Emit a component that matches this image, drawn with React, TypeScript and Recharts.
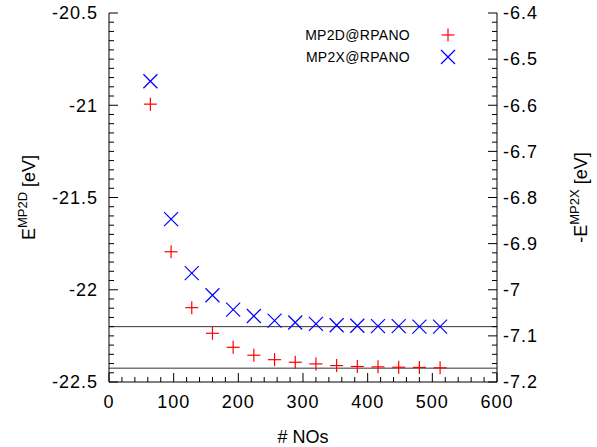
import React from 'react';
import { ScatterChart, Scatter, XAxis, YAxis, ReferenceLine, Legend } from 'recharts';

// number of natural orbitals
const nos = [64, 96, 128, 160, 192, 224, 256, 288, 320, 352, 384, 416, 448, 480, 512];
// E^MP2D [eV], left axis
const mp2d = [-20.994, -21.794, -22.097, -22.236, -22.312, -22.355, -22.379, -22.393, -22.402, -22.411, -22.416, -22.418, -22.42, -22.421, -22.423];
// -E^MP2X [eV], right axis
const mp2x = [-6.548, -6.847, -6.964, -7.012, -7.043, -7.057, -7.067, -7.071, -7.074, -7.077, -7.078, -7.079, -7.079, -7.08, -7.08];
// horizontal reference levels (left axis units)
const refLevels = [-22.2, -22.425];

const xMajor = [0, 100, 200, 300, 400, 500, 600];
const leftMajor = [-22.5, -22, -21.5, -21, -20.5];
const rightMajor = [-7.2, -7.1, -7, -6.9, -6.8, -6.7, -6.6, -6.5, -6.4];

const legendItems = [
  { name: 'MP2D@RPANO', marker: 'plus' },
  { name: 'MP2X@RPANO', marker: 'cross' },
];

const minorTicks = (from: number, to: number, step: number) => {
  const out: number[] = [];
  const n = Math.round((to - from) / step);
  for (let i = 0; i <= n; i++) out.push(Number((from + i * step).toFixed(4)));
  return out;
};

const xTicks = minorTicks(xMajor[0], xMajor[xMajor.length - 1], 20);
const leftTicks = minorTicks(leftMajor[0], leftMajor[leftMajor.length - 1], 0.05);
const rightTicks = minorTicks(rightMajor[0], rightMajor[rightMajor.length - 1], 0.02);

const d2d = nos.map((x, i) => ({ x, y: mp2d[i] }));
const d2x = nos.map((x, i) => ({ x, y: mp2x[i] }));

const FONT = '"Liberation Sans", Arial, sans-serif';
const RED = '#ff0000';
const BLUE = '#0000ff';
const MAJ = 9;
const MIN = 5;

const isMajor = (v: number, list: number[]) => list.some((m) => Math.abs(m - v) < 1e-6);

const PlusMark = ({ cx, cy }: any) => (
  <g stroke={RED} strokeWidth={1.2}>
    <line x1={cx - 6.5} x2={cx + 6.5} y1={cy} y2={cy} />
    <line x1={cx} x2={cx} y1={cy - 6.5} y2={cy + 6.5} />
  </g>
);

const CrossMark = ({ cx, cy }: any) => (
  <g stroke={BLUE} strokeWidth={1.2}>
    <line x1={cx - 7} x2={cx + 7} y1={cy - 7} y2={cy + 7} />
    <line x1={cx - 7} x2={cx + 7} y1={cy + 7} y2={cy - 7} />
  </g>
);

const BottomTick = ({ x, y, payload }: any) => {
  const major = isMajor(payload.value, xMajor);
  return (
    <g>
      <line x1={x} x2={x} y1={y} y2={y - (major ? MAJ : MIN)} stroke="#000" />
      {major && (
        <text x={x} y={y + 26} textAnchor="middle" fontSize={18} fontFamily={FONT} letterSpacing={1} fill="#000">
          {payload.value}
        </text>
      )}
    </g>
  );
};

const TopTick = ({ x, y, payload }: any) => {
  const major = isMajor(payload.value, xMajor);
  return <line x1={x} x2={x} y1={y} y2={y + (major ? MAJ : MIN)} stroke="#000" />;
};

const LeftTick = ({ x, y, payload }: any) => {
  const major = isMajor(payload.value, leftMajor);
  return (
    <g>
      <line x1={x} x2={x + (major ? MAJ : MIN)} y1={y} y2={y} stroke="#000" />
      {major && (
        <text x={x - 11} y={y} dy="0.35em" textAnchor="end" fontSize={18} fontFamily={FONT} letterSpacing={1} fill="#000">
          {Math.round(payload.value * 2) / 2}
        </text>
      )}
    </g>
  );
};

const RightTick = ({ x, y, payload }: any) => {
  const major = isMajor(payload.value, rightMajor);
  return (
    <g>
      <line x1={x} x2={x - (major ? MAJ : MIN)} y1={y} y2={y} stroke="#000" />
      {major && (
        <text x={x + 6} y={y} dy="0.35em" textAnchor="start" fontSize={18} fontFamily={FONT} letterSpacing={1} fill="#000">
          {Math.round(payload.value * 10) / 10}
        </text>
      )}
    </g>
  );
};

const YTitle = ({ viewBox, dx, pre, sup }: any) => {
  const cx = viewBox.x + dx;
  const cy = viewBox.y + viewBox.height / 2;
  return (
    <text x={cx} y={cy} dy="0.35em" transform={`rotate(-90, ${cx}, ${cy})`} textAnchor="middle" fontSize={18} fontFamily={FONT} fill="#000">
      {pre}
      <tspan dy={-8} fontSize={13}>{sup}</tspan>
      <tspan dy={8}> [eV]</tspan>
    </text>
  );
};

const XTitle = ({ viewBox }: any) => (
  <text x={viewBox.x + viewBox.width / 2} y={viewBox.y + 61} textAnchor="middle" fontSize={18} fontFamily={FONT} fill="#000">
    # NOs
  </text>
);

const renderLegend = () => (
  <div style={{ fontFamily: FONT, fontSize: 14, letterSpacing: 0.3, color: '#000' }}>
    {legendItems.map((it) => (
      <div key={it.name} style={{ display: 'flex', alignItems: 'center', height: 22 }}>
        <span style={{ width: 114, textAlign: 'right' }}>{it.name}</span>
        <svg width={76} height={22}>
          {it.marker === 'plus' ? <PlusMark cx={38} cy={11} /> : <CrossMark cx={38} cy={11} />}
        </svg>
      </div>
    ))}
  </div>
);

export default function App() {
  return (
    <div style={{ position: 'absolute', left: 0, top: 0, background: '#fff' }}>
      <ScatterChart width={597} height={447} margin={{ top: 13, right: 0, bottom: 0, left: 0 }}>
        <XAxis
          xAxisId="bottom"
          dataKey="x"
          type="number"
          domain={[0, 600]}
          ticks={xTicks}
          interval={0}
          tickSize={0}
          tickMargin={0}
          height={65}
          axisLine={{ stroke: '#000' }}
          tickLine={false}
          tick={<BottomTick />}
          label={<XTitle />}
        />
        <XAxis
          xAxisId="top"
          orientation="top"
          type="number"
          domain={[0, 600]}
          ticks={xTicks}
          interval={0}
          tickSize={0}
          tickMargin={0}
          height={0}
          axisLine={{ stroke: '#000' }}
          tickLine={false}
          tick={<TopTick />}
        />
        <YAxis
          yAxisId="left"
          dataKey="y"
          type="number"
          domain={[-22.5, -20.5]}
          ticks={leftTicks}
          interval={0}
          tickSize={0}
          tickMargin={0}
          width={109}
          axisLine={{ stroke: '#000' }}
          tickLine={false}
          tick={<LeftTick />}
          label={<YTitle dx={29} pre="E" sup="MP2D" />}
        />
        <YAxis
          yAxisId="right"
          orientation="right"
          dataKey="y"
          type="number"
          domain={[-7.2, -6.4]}
          ticks={rightTicks}
          interval={0}
          tickSize={0}
          tickMargin={0}
          width={100}
          axisLine={{ stroke: '#000' }}
          tickLine={false}
          tick={<RightTick />}
          label={<YTitle dx={84} pre="-E" sup="MP2X" />}
        />
        {refLevels.map((v) => (
          <ReferenceLine key={v} xAxisId="bottom" yAxisId="left" y={v} stroke="#333" strokeWidth={1} />
        ))}
        <Scatter name="MP2D@RPANO" data={d2d} xAxisId="bottom" yAxisId="left" shape={(p: any) => <PlusMark {...p} />} isAnimationActive={false} />
        <Scatter name="MP2X@RPANO" data={d2x} xAxisId="bottom" yAxisId="right" shape={(p: any) => <CrossMark {...p} />} isAnimationActive={false} />
        <Legend layout="vertical" align="center" verticalAlign="middle" wrapperStyle={{ top: 24, left: 296, width: 190 }} content={renderLegend} />
      </ScatterChart>
    </div>
  );
}
